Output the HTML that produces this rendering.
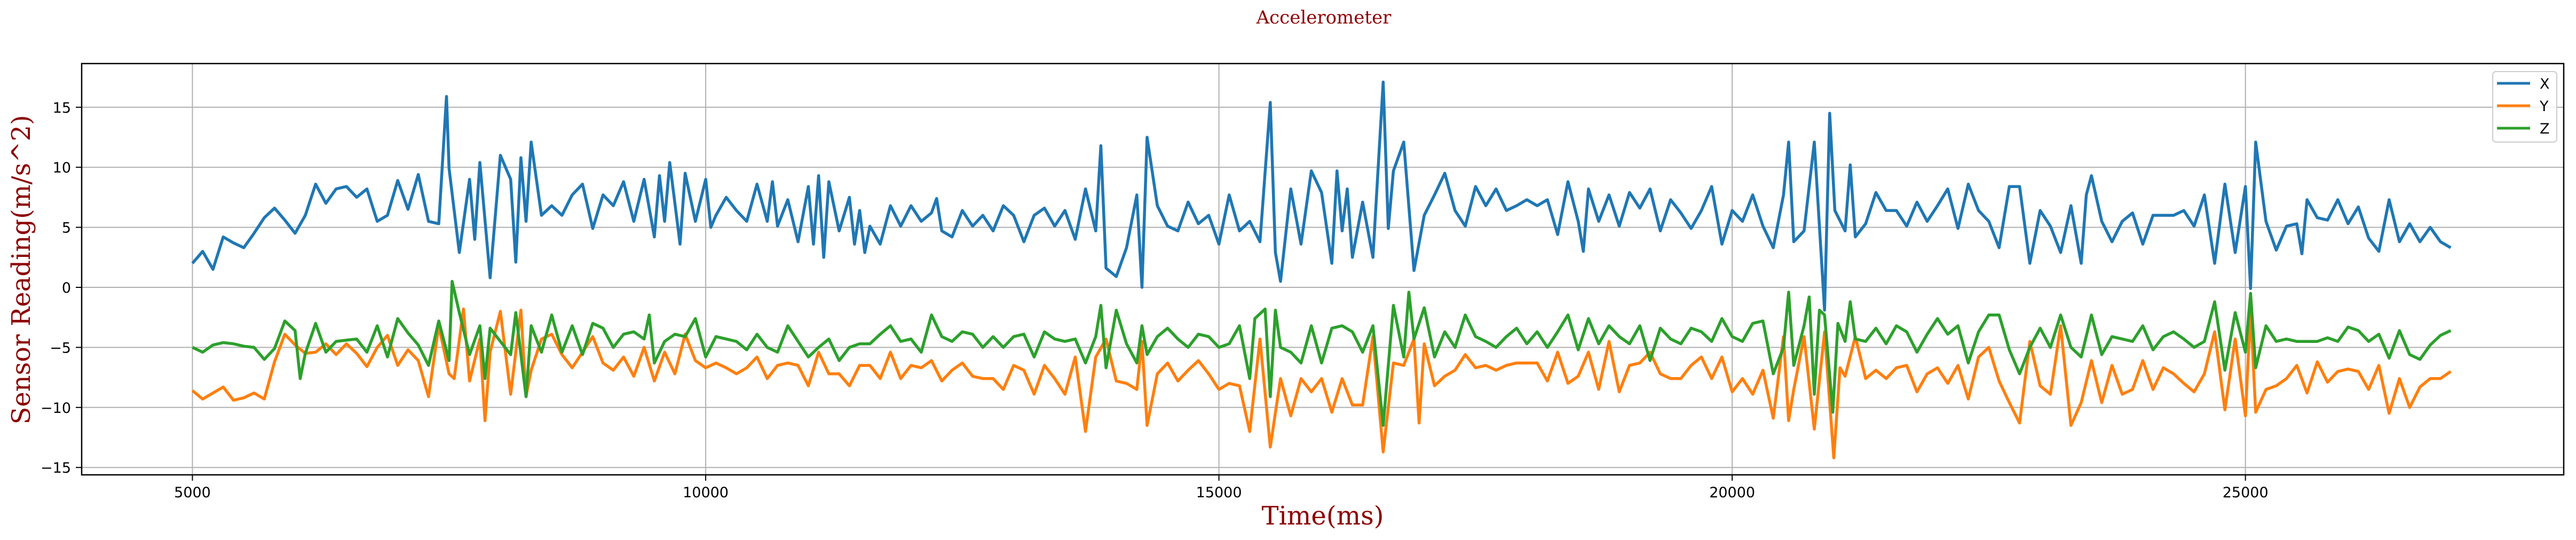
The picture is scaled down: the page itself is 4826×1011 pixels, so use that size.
<!DOCTYPE html>
<html><head><meta charset="utf-8"><style>
html,body{margin:0;padding:0;background:#fff;}
svg{display:block;}
text{font-family:"DejaVu Sans","Liberation Sans",sans-serif;}
.serif{font-family:"DejaVu Serif","Liberation Serif",serif;fill:#8b0000;}
</style></head><body>
<svg id="chart" width="4826" height="1011" viewBox="0 0 4826 1011" xmlns="http://www.w3.org/2000/svg">
<rect x="0" y="0" width="4826" height="1011" fill="#fff"/>
<g id="grid"></g>
<g id="series"></g>
<rect x="153" y="119" width="4650" height="770" fill="none" stroke="#000" stroke-width="2.5"/>
<g id="axes"></g>
<text class="serif" x="2480" y="44" font-size="34" text-anchor="middle">Accelerometer</text>
<text class="serif" x="2478" y="982" font-size="48" text-anchor="middle">Time(ms)</text>
<text class="serif" x="0" y="0" font-size="48" text-anchor="middle" transform="translate(56,505) rotate(-90)">Sensor Reading(m/s^2)</text>
<g>
<rect x="4670" y="134" width="120" height="132" rx="6" fill="#fff" fill-opacity="0.8" stroke="#ccc" stroke-width="2"/>
<line x1="4678" y1="156" x2="4740" y2="156" stroke="#1f77b4" stroke-width="5"/>
<text x="4758" y="166" font-size="27">X</text>
<line x1="4678" y1="198" x2="4740" y2="198" stroke="#ff7f0e" stroke-width="5"/>
<text x="4758" y="208" font-size="27">Y</text>
<line x1="4678" y1="240" x2="4740" y2="240" stroke="#2ca02c" stroke-width="5"/>
<text x="4758" y="250" font-size="27">Z</text>
</g>
</svg>
<script>
const xTicks = [5000, 10000, 15000, 20000, 25000];
const yTicks = [-15, -10, -5, 0, 5, 10, 15];
const seriesNames = ["X", "Y", "Z"];
const seriesColors = ["#1f77b4", "#ff7f0e", "#2ca02c"];

const xTime = [5000,5100,5200,5300,5400,5500,5600,5700,5800,5900,6000,6100,6200,6300,6400,6500,6600,6700,6800,6900,7000,7100,7200,7300,7400,7475,7500,7600,7700,7750,7800,7900,8000,8100,8150,8200,8250,8300,8400,8500,8600,8700,8800,8900,9000,9100,9200,9300,9400,9500,9550,9600,9650,9700,9750,9800,9900,10000,10050,10100,10200,10300,10400,10500,10600,10650,10700,10800,10900,11000,11050,11100,11150,11200,11300,11400,11450,11500,11550,11600,11700,11800,11900,12000,12100,12200,12250,12300,12400,12500,12600,12700,12800,12900,13000,13100,13200,13300,13400,13500,13600,13700,13800,13850,13900,14000,14100,14200,14250,14300,14400,14500,14600,14700,14800,14900,15000,15100,15200,15300,15400,15500,15550,15600,15700,15800,15900,16000,16100,16150,16200,16250,16300,16400,16500,16600,16650,16700,16800,16900,17000,17100,17200,17300,17400,17500,17600,17700,17800,17900,18000,18100,18200,18300,18400,18500,18550,18600,18700,18800,18900,19000,19100,19200,19300,19400,19500,19600,19700,19800,19900,20000,20100,20200,20300,20400,20500,20550,20600,20700,20800,20900,20950,21000,21100,21150,21200,21300,21400,21500,21600,21700,21800,21900,22000,22100,22200,22300,22400,22500,22600,22700,22800,22900,23000,23100,23200,23300,23400,23450,23500,23600,23700,23800,23900,24000,24100,24200,24300,24400,24500,24600,24700,24800,24900,25000,25050,25100,25200,25300,25400,25500,25550,25600,25700,25800,25900,26000,26100,26200,26300,26400,26500,26600,26700,26800,26900,27000];
const xVal = [2.0,3.0,1.5,4.2,3.7,3.3,4.5,5.8,6.6,5.6,4.5,6.0,8.6,7.0,8.2,8.4,7.5,8.2,5.5,6.0,8.9,6.5,9.4,5.5,5.3,15.9,9.9,2.9,9.0,4.0,10.4,0.8,11.0,9.0,2.1,10.8,5.5,12.1,6.0,6.8,6.0,7.7,8.6,4.9,7.7,6.8,8.8,5.5,9.0,4.2,9.3,5.5,10.4,7.0,3.6,9.5,5.5,9.0,5.0,6.0,7.5,6.4,5.5,8.6,5.5,8.8,5.1,7.3,3.8,8.4,3.6,9.3,2.5,8.8,4.7,7.5,3.6,6.4,2.9,5.1,3.6,6.8,5.1,6.8,5.5,6.2,7.4,4.7,4.2,6.4,5.1,6.0,4.7,6.8,6.0,3.8,6.0,6.6,5.1,6.4,4.0,8.2,4.7,11.8,1.6,0.9,3.3,7.7,0.0,12.5,6.8,5.1,4.7,7.1,5.3,6.0,3.6,7.7,4.7,5.5,3.8,15.4,2.9,0.5,8.2,3.6,9.7,7.9,2.0,9.7,4.7,8.2,2.5,7.1,2.5,17.1,4.9,9.7,12.1,1.4,6.0,7.7,9.5,6.4,5.1,8.4,6.8,8.2,6.4,6.8,7.3,6.8,7.3,4.4,8.8,5.5,3.0,8.2,5.5,7.7,5.1,7.9,6.6,8.2,4.7,7.3,6.2,4.9,6.4,8.4,3.6,6.4,5.5,7.7,5.1,3.3,7.7,12.1,3.8,4.7,12.1,-1.9,14.5,6.4,4.7,10.2,4.2,5.3,7.9,6.4,6.4,5.1,7.1,5.5,6.8,8.2,4.9,8.6,6.4,5.5,3.3,8.4,8.4,2.0,6.4,5.1,2.9,6.8,2.0,7.7,9.3,5.5,3.8,5.5,6.2,3.6,6.0,6.0,6.0,6.4,5.1,7.7,2.0,8.6,2.9,8.4,-0.1,12.1,5.5,3.1,5.1,5.3,2.8,7.3,5.8,5.6,7.3,5.3,6.7,4.1,3.0,7.3,3.8,5.3,3.8,5.0,3.8,3.3];

const yTime = [5000,5100,5200,5300,5400,5500,5600,5700,5800,5900,6000,6100,6200,6300,6400,6500,6600,6700,6800,6900,7000,7100,7200,7300,7400,7500,7550,7640,7700,7800,7850,7900,8000,8100,8200,8250,8300,8400,8500,8600,8700,8800,8900,9000,9100,9200,9300,9400,9500,9600,9700,9800,9900,10000,10100,10200,10300,10400,10500,10600,10700,10800,10900,11000,11100,11200,11300,11400,11500,11600,11700,11800,11900,12000,12100,12200,12300,12400,12500,12600,12700,12800,12900,13000,13100,13200,13300,13400,13500,13600,13700,13800,13900,14000,14100,14200,14250,14300,14400,14500,14600,14700,14800,14900,15000,15100,15200,15300,15400,15500,15600,15700,15800,15900,16000,16100,16200,16300,16400,16500,16600,16700,16800,16900,16950,17000,17100,17200,17300,17400,17500,17600,17700,17800,17900,18000,18100,18200,18300,18400,18500,18600,18700,18800,18900,19000,19100,19200,19300,19400,19500,19600,19700,19800,19900,20000,20100,20200,20300,20400,20500,20550,20600,20700,20800,20900,20990,21050,21100,21200,21300,21400,21500,21600,21700,21800,21900,22000,22100,22200,22300,22400,22500,22600,22700,22800,22900,23000,23100,23200,23300,23400,23500,23600,23700,23800,23900,24000,24100,24200,24300,24400,24500,24600,24700,24800,24900,25000,25050,25100,25200,25300,25400,25500,25600,25700,25800,25900,26000,26100,26200,26300,26400,26500,26600,26700,26800,26900,27000];
const yVal = [-8.6,-9.3,-8.8,-8.3,-9.4,-9.2,-8.8,-9.3,-6.2,-3.9,-4.8,-5.5,-5.4,-4.7,-5.6,-4.7,-5.5,-6.6,-5.0,-4.0,-6.5,-5.2,-6.1,-9.1,-3.2,-7.2,-7.6,-1.8,-7.8,-4.3,-11.1,-5.4,-2.0,-8.9,-1.9,-9.1,-6.9,-4.3,-3.9,-5.6,-6.7,-5.4,-4.1,-6.3,-6.9,-5.8,-7.4,-5.0,-7.8,-5.4,-7.2,-3.9,-6.1,-6.7,-6.3,-6.7,-7.2,-6.7,-5.8,-7.6,-6.5,-6.3,-6.5,-8.2,-5.4,-7.2,-7.2,-8.2,-6.5,-6.5,-7.6,-5.4,-7.6,-6.5,-6.7,-6.1,-7.8,-6.9,-6.3,-7.4,-7.6,-7.6,-8.5,-6.5,-6.9,-8.9,-6.5,-7.6,-8.9,-5.8,-12.0,-5.8,-4.3,-7.8,-8.0,-8.5,-4.5,-11.5,-7.2,-6.3,-7.8,-6.9,-6.1,-7.2,-8.5,-8.0,-8.2,-12.0,-4.3,-13.3,-7.6,-10.7,-7.6,-8.7,-7.6,-10.4,-7.6,-9.8,-9.8,-4.1,-13.7,-6.3,-6.5,-4.3,-11.3,-4.7,-8.2,-7.4,-6.9,-5.6,-6.7,-6.5,-6.9,-6.5,-6.3,-6.3,-6.3,-7.8,-5.4,-8.0,-7.4,-5.4,-8.5,-4.5,-8.7,-6.5,-6.3,-5.4,-7.2,-7.6,-7.6,-6.5,-5.8,-7.6,-5.8,-8.7,-7.6,-8.9,-6.9,-10.9,-4.1,-11.1,-8.5,-4.1,-11.8,-3.7,-14.2,-6.7,-7.4,-4.1,-7.6,-6.9,-7.6,-6.7,-6.5,-8.7,-7.2,-6.7,-8.0,-6.5,-9.3,-5.8,-5.0,-7.8,-9.6,-11.3,-4.5,-8.2,-8.9,-3.2,-11.5,-9.6,-6.1,-9.6,-6.5,-8.9,-8.5,-6.1,-8.5,-6.7,-7.2,-8.0,-8.7,-7.2,-3.7,-10.2,-4.3,-10.7,-1.9,-10.4,-8.5,-8.2,-7.6,-6.5,-8.8,-6.2,-7.9,-7.0,-6.8,-7.0,-8.5,-6.5,-10.5,-7.6,-10.0,-8.3,-7.6,-7.6,-7.0];

const zTime = [5000,5100,5200,5300,5400,5500,5600,5700,5800,5900,6000,6050,6100,6200,6300,6400,6500,6600,6700,6800,6900,7000,7100,7200,7300,7400,7500,7530,7600,7700,7800,7850,7900,8000,8100,8150,8250,8300,8400,8500,8600,8700,8800,8900,9000,9100,9200,9300,9400,9450,9500,9600,9700,9800,9900,10000,10100,10200,10300,10400,10500,10600,10700,10800,10900,11000,11100,11200,11300,11400,11500,11600,11700,11800,11900,12000,12100,12200,12300,12400,12500,12600,12700,12800,12900,13000,13100,13200,13300,13400,13500,13600,13700,13800,13850,13900,14000,14100,14200,14250,14300,14400,14500,14600,14700,14800,14900,15000,15100,15200,15300,15350,15450,15500,15550,15600,15700,15800,15900,16000,16100,16200,16300,16400,16500,16600,16700,16800,16850,16900,17000,17100,17200,17300,17400,17500,17600,17700,17800,17900,18000,18100,18200,18300,18400,18500,18600,18700,18800,18900,19000,19100,19200,19300,19400,19500,19600,19700,19800,19900,20000,20100,20200,20300,20400,20500,20550,20600,20700,20750,20800,20850,20900,20980,21030,21100,21150,21200,21300,21400,21500,21600,21700,21800,21900,22000,22100,22200,22300,22400,22500,22600,22700,22800,22900,23000,23100,23200,23300,23400,23500,23600,23700,23800,23900,24000,24100,24200,24300,24400,24500,24600,24700,24800,24900,25000,25050,25100,25200,25300,25400,25500,25600,25700,25800,25900,26000,26100,26200,26300,26400,26500,26600,26700,26800,26900,27000];
const zVal = [-5.0,-5.4,-4.8,-4.6,-4.7,-4.9,-5.0,-6.0,-5.1,-2.8,-3.6,-7.6,-5.5,-3.0,-5.4,-4.5,-4.4,-4.3,-5.4,-3.2,-5.8,-2.6,-3.8,-4.8,-6.5,-2.8,-6.1,0.5,-2.1,-5.6,-3.2,-7.6,-3.4,-4.5,-5.6,-2.1,-9.1,-3.2,-5.4,-2.3,-5.4,-3.2,-5.6,-3.0,-3.4,-5.0,-3.9,-3.7,-4.3,-2.3,-6.3,-4.5,-3.9,-4.1,-2.6,-5.8,-4.1,-4.3,-4.5,-5.2,-3.9,-5.0,-5.4,-3.2,-4.5,-5.8,-5.0,-4.3,-6.1,-5.0,-4.7,-4.7,-3.9,-3.2,-4.5,-4.3,-5.4,-2.3,-4.1,-4.5,-3.7,-3.9,-5.0,-4.1,-5.0,-4.1,-3.9,-5.8,-3.7,-4.3,-4.5,-4.3,-6.3,-4.1,-1.5,-6.7,-1.9,-4.7,-6.3,-3.2,-5.6,-4.1,-3.4,-4.3,-5.0,-3.9,-4.1,-5.0,-4.7,-3.2,-7.6,-2.6,-1.8,-9.1,-1.9,-5.0,-5.4,-6.3,-3.2,-6.3,-3.4,-3.2,-3.7,-5.4,-3.2,-11.5,-1.5,-5.8,-0.4,-4.3,-1.7,-5.8,-3.7,-5.0,-2.3,-4.1,-4.5,-5.0,-4.1,-3.4,-4.7,-3.7,-5.0,-3.7,-2.3,-5.2,-2.6,-4.7,-3.2,-4.1,-4.7,-3.2,-6.1,-3.4,-4.3,-4.7,-3.4,-3.7,-4.5,-2.6,-4.1,-4.5,-3.0,-2.8,-7.2,-5.0,-0.4,-6.5,-3.2,-0.8,-8.9,-1.9,-2.3,-10.4,-3.0,-4.5,-1.2,-4.3,-4.5,-3.4,-4.7,-3.2,-3.7,-5.4,-3.9,-2.6,-3.9,-3.2,-6.3,-3.7,-2.3,-2.3,-5.2,-7.2,-5.0,-3.4,-5.0,-2.3,-5.0,-5.8,-2.3,-5.6,-4.1,-4.3,-4.5,-3.2,-5.2,-4.1,-3.7,-4.3,-5.0,-4.5,-1.2,-6.9,-2.1,-5.4,-0.5,-6.7,-3.2,-4.5,-4.3,-4.5,-4.5,-4.5,-4.2,-4.5,-3.3,-3.6,-4.5,-3.9,-5.9,-3.6,-5.6,-6.0,-4.8,-4.0,-3.6];

const NS = "http://www.w3.org/2000/svg";
function sx(t){ return 360.5 + (t - 5000) * 0.19231; }
function sy(v){ return 538 - v * 22.48; }
const grid = document.getElementById('grid');
const axes = document.getElementById('axes');
const seriesG = document.getElementById('series');

xTicks.forEach(function(t){
  const gl = document.createElementNS(NS,'line');
  gl.setAttribute('x1',sx(t)); gl.setAttribute('x2',sx(t));
  gl.setAttribute('y1',119); gl.setAttribute('y2',889);
  gl.setAttribute('stroke','#b0b0b0'); gl.setAttribute('stroke-width','2');
  
  
  grid.appendChild(gl);
  const tk = document.createElementNS(NS,'line');
  tk.setAttribute('x1',sx(t)); tk.setAttribute('x2',sx(t));
  tk.setAttribute('y1',889); tk.setAttribute('y2',900);
  tk.setAttribute('stroke','#000'); tk.setAttribute('stroke-width','2');
  
  
  axes.appendChild(tk);
  const tx = document.createElementNS(NS,'text');
  tx.setAttribute('x',sx(t)); tx.setAttribute('y',931);
  tx.setAttribute('font-size','27'); tx.setAttribute('text-anchor','middle');
  tx.textContent = String(t);
  
  
  axes.appendChild(tx);
});
yTicks.forEach(function(v){
  const gl = document.createElementNS(NS,'line');
  gl.setAttribute('x1',153); gl.setAttribute('x2',4803);
  gl.setAttribute('y1',sy(v)); gl.setAttribute('y2',sy(v));
  gl.setAttribute('stroke','#b0b0b0'); gl.setAttribute('stroke-width','2');
  
  
  grid.appendChild(gl);
  const tk = document.createElementNS(NS,'line');
  tk.setAttribute('x1',142); tk.setAttribute('x2',153);
  tk.setAttribute('y1',sy(v)); tk.setAttribute('y2',sy(v));
  tk.setAttribute('stroke','#000'); tk.setAttribute('stroke-width','2');
  
  
  axes.appendChild(tk);
  const tx = document.createElementNS(NS,'text');
  tx.setAttribute('x',133); tx.setAttribute('y',sy(v)+10);
  tx.setAttribute('font-size','27'); tx.setAttribute('text-anchor','end');
  tx.textContent = (v < 0 ? '\u2212' + Math.abs(v) : String(v));
  
  
  axes.appendChild(tx);
});

function drawSeries(times, vals, color, name){
  let d = '';
  for (let i = 0; i < times.length; i++) {
    d += (i ? 'L' : 'M') + sx(times[i]).toFixed(1) + ' ' + sy(vals[i]).toFixed(1);
  }
  const p = document.createElementNS(NS,'path');
  p.setAttribute('d', d);
  p.setAttribute('fill','none');
  p.setAttribute('stroke', color);
  p.setAttribute('stroke-width','5.5');
  p.setAttribute('stroke-linejoin','round');
  
  
  seriesG.appendChild(p);
}
drawSeries(xTime, xVal, seriesColors[0], 'series-x-line');
drawSeries(yTime, yVal, seriesColors[1], 'series-y-line');
drawSeries(zTime, zVal, seriesColors[2], 'series-z-line');
</script>
</body></html>
